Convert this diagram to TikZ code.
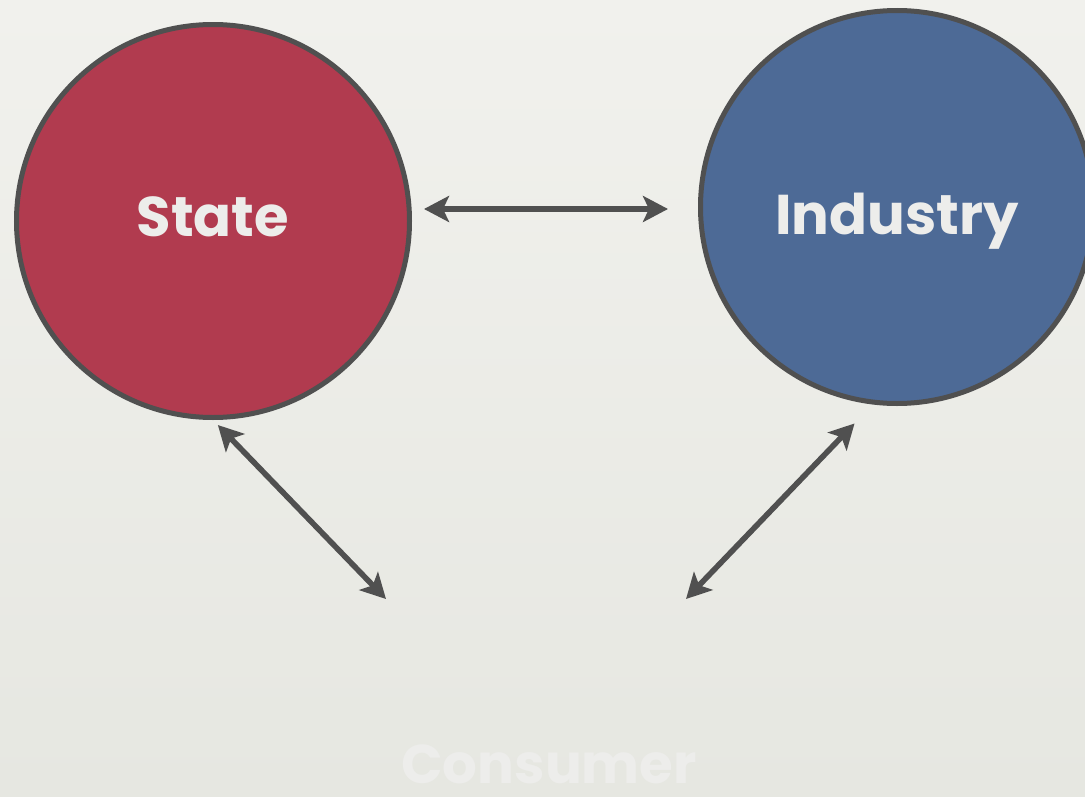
\documentclass[tikz,border=0pt]{standalone}
\usepackage{fontspec}
\setmainfont{Poppins}
\usetikzlibrary{arrows.meta, positioning}
\definecolor{statered}{HTML}{B13B4F}
\definecolor{industryblue}{HTML}{4D6A96}
\definecolor{rim}{HTML}{505050}
\definecolor{paper}{HTML}{F1F1ED}
\definecolor{paperdark}{HTML}{E6E7E1}
\definecolor{chalk}{HTML}{EDEDEB}
\tikzset{
    actor/.style={circle, draw=rim, line width=3.75pt, minimum size=294.75pt, inner sep=0pt,
        text=chalk, text depth=0pt, font=\bfseries\fontsize{42}{48}\selectfont}, % the two big discs
    link/.style={draw=rim, line width=4.2pt, {Stealth[length=18.75pt, width=19.5pt, inset=4.5pt]}-{Stealth[length=18.75pt, width=19.5pt, inset=4.5pt]}}, % double headed
}
\begin{document}
\begin{tikzpicture}[x=0.75pt, y=-0.75pt]
    \clip (0,0) rectangle (1085,796);
    \shade[top color=paper, bottom color=paperdark] (0,0) rectangle (1085,796);
    \node[actor, fill=statered, text height=23pt] (state) at (213,221) {State};
    \node[actor, fill=industryblue, text height=41pt] (industry) at (897,207) {Industry};
    \node[text=chalk, inner sep=0pt, font=\bfseries\fontsize{41}{48}\selectfont] (consumer) at (549,764) {Consumer};
    \coordinate (stateEnd) at (386,599);
    \coordinate (industryEnd) at (686,599);
    \draw[link, shorten <=9pt, shorten >=22.5pt] ([yshift=9pt]state.east) -- ([yshift=-1.5pt]industry.west);
    \draw[link, shorten <=5.25pt] (state.south) -- (stateEnd);
    \draw[link, shorten <=19.7pt] (industry.-97) -- (industryEnd);
\end{tikzpicture}
\end{document}
